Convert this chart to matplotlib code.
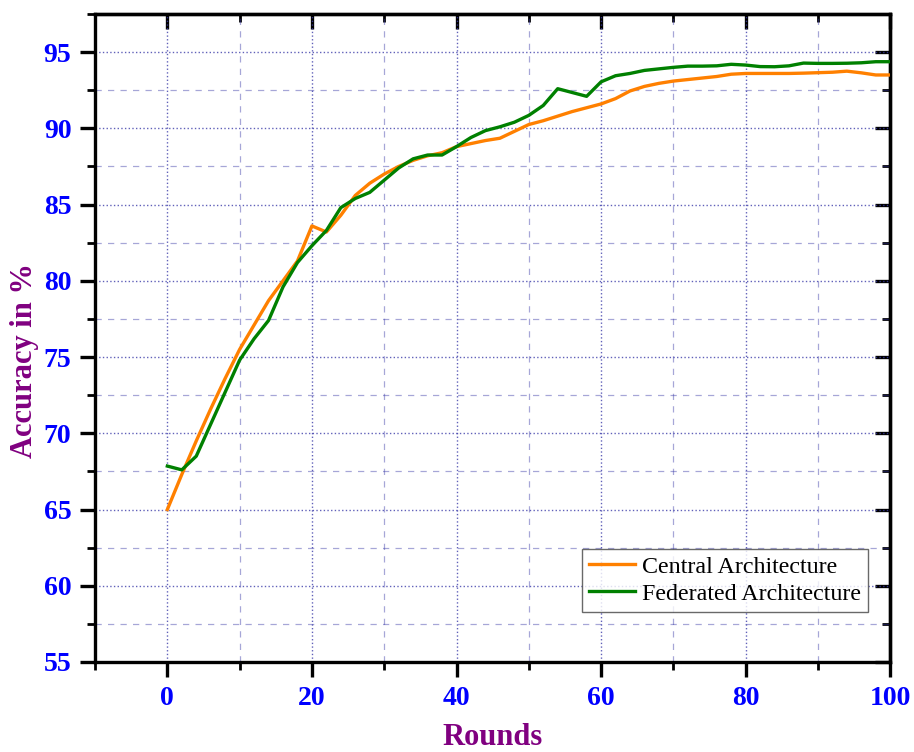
import matplotlib
matplotlib.use("Agg")
import matplotlib.pyplot as plt
from matplotlib.ticker import MultipleLocator

rounds = list(range(0, 101, 2))
central = [65.0, 67.3, 69.5, 71.6, 73.6, 75.5, 77.1, 78.7, 80.0, 81.3,
           83.6, 83.2, 84.3, 85.6, 86.4, 87.0, 87.5, 87.9, 88.2, 88.4,
           88.8, 89.0, 89.2, 89.35, 89.8, 90.25, 90.5, 90.8, 91.1, 91.35,
           91.6, 91.95, 92.45, 92.75, 92.95, 93.1, 93.2, 93.3, 93.4, 93.55,
           93.6, 93.6, 93.6, 93.6, 93.62, 93.65, 93.68, 93.75, 93.64, 93.5,
           93.5]
federated = [67.85, 67.6, 68.5, 70.6, 72.7, 74.8, 76.2, 77.4, 79.6, 81.2,
             82.3, 83.3, 84.8, 85.4, 85.8, 86.6, 87.4, 88.0, 88.25, 88.25,
             88.8, 89.4, 89.85, 90.1, 90.4, 90.85, 91.5, 92.6, 92.35, 92.1,
             93.05, 93.45, 93.6, 93.8, 93.9, 94.0, 94.08, 94.08, 94.1, 94.2,
             94.15, 94.05, 94.04, 94.1, 94.28, 94.26, 94.26, 94.27, 94.3, 94.37,
             94.37]
series_names = ["Central Architecture", "Federated Architecture"]
x_ticks = [0, 20, 40, 60, 80, 100]
y_ticks = [55, 60, 65, 70, 75, 80, 85, 90, 95]

serif = ["Liberation Serif", "DejaVu Serif"]
plt.rcParams["font.family"] = serif

fig = plt.figure(figsize=(9.14, 7.52), dpi=100)
ax = fig.add_axes([0.104, 0.1197, 0.870, 0.8617])

ax.plot(rounds, central, color="#ff8000", lw=2.4, label=series_names[0], zorder=3)
ax.plot(rounds, federated, color="#008000", lw=2.4, label=series_names[1], zorder=4)

ax.set_xlim(-10, 100)
ax.set_ylim(55, 97.5)
ax.set_xticks(x_ticks)
ax.set_yticks(y_ticks)
ax.xaxis.set_minor_locator(MultipleLocator(10))
ax.yaxis.set_minor_locator(MultipleLocator(2.5))

gc = "#3a3aa8"
ax.grid(which="major", linestyle=":", color=gc, lw=1.0, alpha=0.8)
ax.grid(which="minor", linestyle=(0, (5, 5)), color=gc, lw=0.9, alpha=0.45)
for t in ax.xaxis.get_minor_ticks():
    if abs(t.get_loc() - 10) < 1e-6:
        t.gridline.set_alpha(0.12)
ax.set_axisbelow(True)

ax.tick_params(which="major", direction="out", length=11, width=2.4,
               labelsize=20, labelcolor="#0000ff", pad=6)
ax.tick_params(which="minor", direction="out", length=6, width=2.0)
for lab in ax.get_xticklabels() + ax.get_yticklabels():
    lab.set_fontweight("bold")

for sp in ax.spines.values():
    sp.set_linewidth(2.4)

secx = ax.secondary_xaxis("top")
secx.set_xticks(x_ticks)
secx.xaxis.set_minor_locator(MultipleLocator(10))
secx.tick_params(which="major", direction="in", length=11, width=2.4, labeltop=False)
secx.tick_params(which="minor", direction="in", length=6, width=2.0)
secx.spines["top"].set_linewidth(2.4)

secy = ax.secondary_yaxis("right")
secy.set_yticks(y_ticks)
secy.yaxis.set_minor_locator(MultipleLocator(2.5))
secy.tick_params(which="major", direction="in", length=11, width=2.4, labelright=False)
secy.tick_params(which="minor", direction="in", length=6, width=2.0)
secy.spines["right"].set_linewidth(2.4)

ax.set_xlabel("Rounds", fontsize=22, fontweight="bold", color="#800080")
ax.set_ylabel("Accuracy in %", fontsize=22, fontweight="bold", color="#800080")
ax.xaxis.set_label_coords(0.5, -0.094)
ax.yaxis.set_label_coords(-0.071, 0.466)

leg = ax.legend(loc="lower right", bbox_to_anchor=(0.972, 0.077), fontsize=17.3,
                frameon=True, fancybox=False, edgecolor="#444444",
                handlelength=1.9, handletextpad=0.3, borderpad=0.3,
                labelspacing=0.22, borderaxespad=0.0)
leg.get_frame().set_linewidth(1.0)

fig.savefig("out.png", dpi=100)
